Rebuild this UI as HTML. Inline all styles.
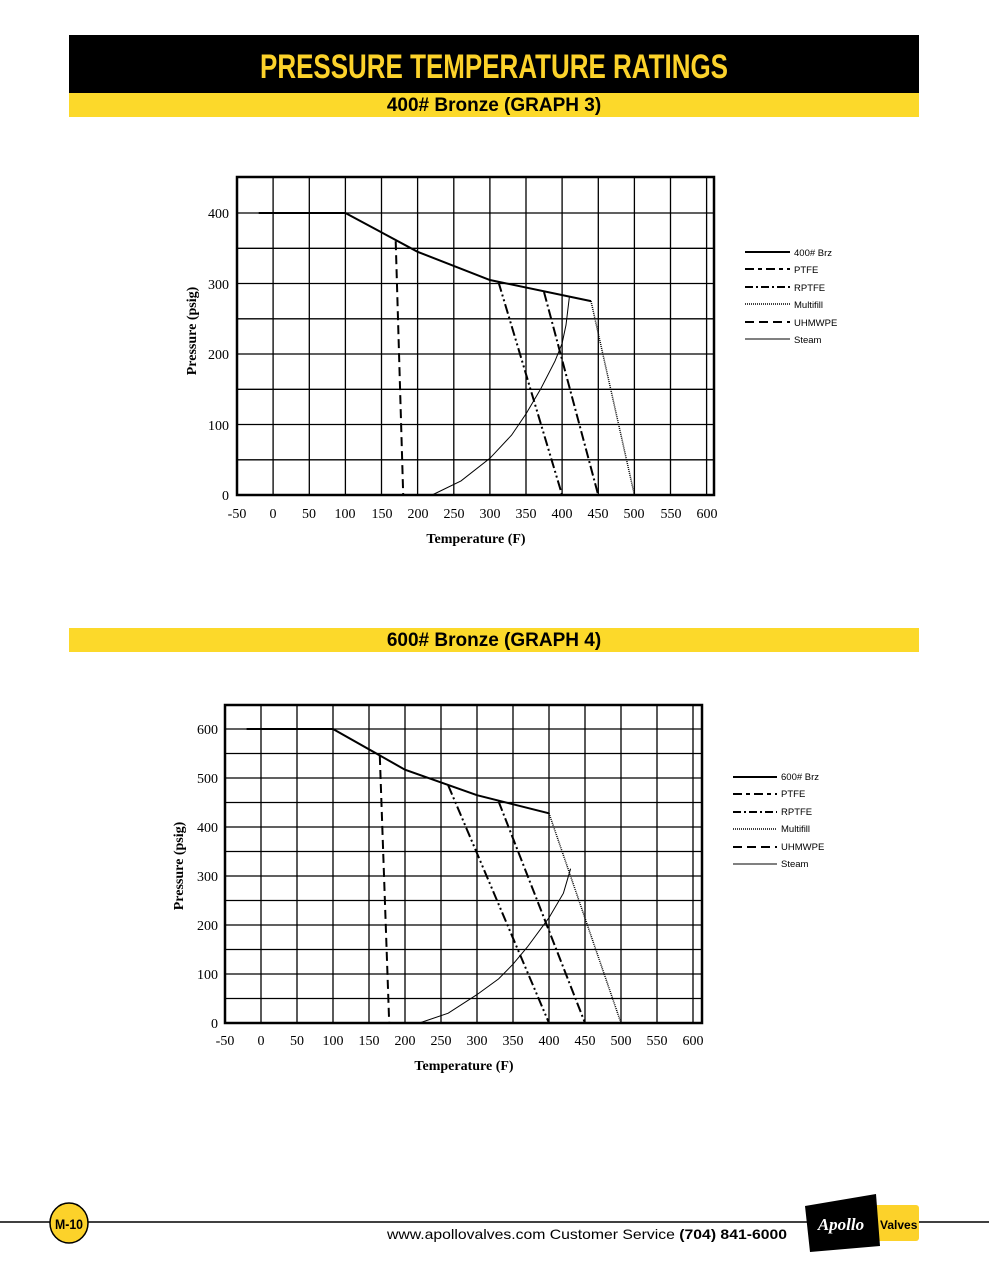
<!DOCTYPE html>
<html><head><meta charset="utf-8"><style>
html,body{margin:0;padding:0;background:#fff}
svg{display:block}
.s{font-family:"Liberation Serif",serif;font-size:14px;fill:#000}
.b{font-family:"Liberation Serif",serif;font-size:14px;font-weight:bold;fill:#000}
.l{font-family:"Liberation Sans",sans-serif;font-size:9.5px;fill:#000}
.g{stroke:#000;stroke-width:1.3;fill:none}
</style></head><body>
<svg width="989" height="1280" viewBox="0 0 989 1280" xmlns="http://www.w3.org/2000/svg">
<rect x="69" y="35" width="850" height="58" fill="#000"/>
<text x="494" y="78" text-anchor="middle" font-family="Liberation Sans, sans-serif" font-weight="bold" font-size="34" fill="#fcd22a" textLength="468" lengthAdjust="spacingAndGlyphs">PRESSURE TEMPERATURE RATINGS</text>
<rect x="69" y="93" width="850" height="24" fill="#fcd92a"/>
<text x="494" y="111" text-anchor="middle" font-family="Liberation Sans, sans-serif" font-weight="bold" font-size="19" fill="#000">400# Bronze (GRAPH 3)</text>
<rect x="69" y="628" width="850" height="24" fill="#fcd92a"/>
<text x="494" y="646" text-anchor="middle" font-family="Liberation Sans, sans-serif" font-weight="bold" font-size="19" fill="#000">600# Bronze (GRAPH 4)</text>

<!-- Graph 1 -->
<g class="g">
<path d="M273.1 177V495M309.3 177V495M345.4 177V495M381.5 177V495M417.6 177V495M453.8 177V495M489.9 177V495M526 177V495M562.1 177V495M598.3 177V495M634.4 177V495M670.5 177V495M706.6 177V495"/>
<path d="M237 459.8H714M237 424.5H714M237 389.3H714M237 354H714M237 318.8H714M237 283.5H714M237 248.3H714M237 213H714"/>
</g>
<rect x="237" y="177" width="477" height="318" fill="none" stroke="#000" stroke-width="2.5"/>
<g fill="none" stroke="#000">
<polyline stroke-width="2" points="258.7,213 345.4,213 417.6,251.8 489.9,280 591,301.1"/>
<line stroke-width="2" stroke-dasharray="9,5" x1="395.7" y1="241.2" x2="403.2" y2="495"/>
<line stroke-width="2" stroke-dasharray="10,3,2,3,2,3" x1="498.5" y1="282.1" x2="562.1" y2="495"/>
<line stroke-width="2" stroke-dasharray="10,3,2,3" x1="544" y1="292" x2="598.2" y2="495"/>
<line stroke-width="1.5" stroke-dasharray="1,1" x1="591" y1="301.1" x2="634.4" y2="495"/>
<polyline stroke-width="1" points="432.1,495 461,480.9 489.9,458.3 511.6,435.1 526,413.9 540.5,389.3 555,361.1 562.1,343.4 566,325 569.3,297.6"/>
</g>
<g class="s" text-anchor="end">
<text x="229" y="500">0</text><text x="229" y="430">100</text><text x="229" y="359">200</text><text x="229" y="289">300</text><text x="229" y="218">400</text>
</g>
<g class="s" text-anchor="middle">
<text x="237" y="518">-50</text><text x="273" y="518">0</text><text x="309" y="518">50</text><text x="345" y="518">100</text><text x="382" y="518">150</text><text x="418" y="518">200</text><text x="454" y="518">250</text><text x="490" y="518">300</text><text x="526" y="518">350</text><text x="562" y="518">400</text><text x="598" y="518">450</text><text x="634" y="518">500</text><text x="671" y="518">550</text><text x="707" y="518">600</text>
</g>
<text class="b" x="476" y="543" text-anchor="middle">Temperature (F)</text>
<text class="b" transform="translate(196,331) rotate(-90)" text-anchor="middle">Pressure (psig)</text>
<g stroke="#000" fill="none">
<line x1="745" y1="252" x2="790" y2="252" stroke-width="2"/>
<line x1="745" y1="269" x2="790" y2="269" stroke-width="2" stroke-dasharray="9,4,4,4"/>
<line x1="745" y1="287" x2="790" y2="287" stroke-width="2" stroke-dasharray="8,3,2,3"/>
<line x1="745" y1="304" x2="790" y2="304" stroke-width="1.5" stroke-dasharray="1,1"/>
<line x1="745" y1="322" x2="790" y2="322" stroke-width="2" stroke-dasharray="9,5"/>
<line x1="745" y1="339" x2="790" y2="339" stroke-width="1"/>
</g>
<g class="l"><text x="794" y="256">400# Brz</text><text x="794" y="273">PTFE</text><text x="794" y="291">RPTFE</text><text x="794" y="308">Multifill</text><text x="794" y="326">UHMWPE</text><text x="794" y="343">Steam</text></g>

<!-- Graph 2 -->
<g class="g">
<path d="M261 705V1023M297 705V1023M333 705V1023M369 705V1023M405 705V1023M441 705V1023M477 705V1023M513 705V1023M549 705V1023M585 705V1023M621 705V1023M657 705V1023M693 705V1023"/>
<path d="M225 998.5H702M225 974H702M225 949.5H702M225 925H702M225 900.5H702M225 876H702M225 851.5H702M225 827H702M225 802.5H702M225 778H702M225 753.5H702M225 729H702"/>
</g>
<rect x="225" y="705" width="477" height="318" fill="none" stroke="#000" stroke-width="2.5"/>
<g fill="none" stroke="#000">
<polyline stroke-width="2" points="246.6,729 333,729 405,769.7 477,795.2 549,813.3"/>
<line stroke-width="2" stroke-dasharray="9,5" x1="379.8" y1="756" x2="389.2" y2="1023"/>
<line stroke-width="2" stroke-dasharray="10,3,2,3,2,3" x1="448.2" y1="785.4" x2="549" y2="1023"/>
<line stroke-width="2" stroke-dasharray="10,3,2,3" x1="498.6" y1="801.5" x2="585" y2="1023"/>
<line stroke-width="1.5" stroke-dasharray="1,1" x1="549" y1="813.3" x2="621" y2="1023"/>
<polyline stroke-width="1" points="419.4,1023 448.2,1013.2 477,994.6 498.6,978.9 513,964.2 527.4,947 549,917.7 563.4,893.2 570.6,868.7"/>
</g>
<g class="s" text-anchor="end">
<text x="218" y="1028">0</text><text x="218" y="979">100</text><text x="218" y="930">200</text><text x="218" y="881">300</text><text x="218" y="832">400</text><text x="218" y="783">500</text><text x="218" y="734">600</text>
</g>
<g class="s" text-anchor="middle">
<text x="225" y="1045">-50</text><text x="261" y="1045">0</text><text x="297" y="1045">50</text><text x="333" y="1045">100</text><text x="369" y="1045">150</text><text x="405" y="1045">200</text><text x="441" y="1045">250</text><text x="477" y="1045">300</text><text x="513" y="1045">350</text><text x="549" y="1045">400</text><text x="585" y="1045">450</text><text x="621" y="1045">500</text><text x="657" y="1045">550</text><text x="693" y="1045">600</text>
</g>
<text class="b" x="464" y="1070" text-anchor="middle">Temperature (F)</text>
<text class="b" transform="translate(183,866) rotate(-90)" text-anchor="middle">Pressure (psig)</text>
<g stroke="#000" fill="none">
<line x1="733" y1="777" x2="777" y2="777" stroke-width="2"/>
<line x1="733" y1="794" x2="777" y2="794" stroke-width="2" stroke-dasharray="9,4,4,4"/>
<line x1="733" y1="812" x2="777" y2="812" stroke-width="2" stroke-dasharray="8,3,2,3"/>
<line x1="733" y1="829" x2="777" y2="829" stroke-width="1.5" stroke-dasharray="1,1"/>
<line x1="733" y1="847" x2="777" y2="847" stroke-width="2" stroke-dasharray="9,5"/>
<line x1="733" y1="864" x2="777" y2="864" stroke-width="1"/>
</g>
<g class="l"><text x="781" y="780">600# Brz</text><text x="781" y="797">PTFE</text><text x="781" y="815">RPTFE</text><text x="781" y="832">Multifill</text><text x="781" y="850">UHMWPE</text><text x="781" y="867">Steam</text></g>

<!-- Footer -->
<line x1="0" y1="1222" x2="989" y2="1222" stroke="#000" stroke-width="1.5"/>
<ellipse cx="69" cy="1223" rx="19" ry="20" fill="#fcd22a" stroke="#000" stroke-width="1.5"/>
<text x="69" y="1229" text-anchor="middle" font-family="Liberation Sans, sans-serif" font-weight="bold" font-size="14" fill="#000" textLength="28" lengthAdjust="spacingAndGlyphs">M-10</text>
<text x="387" y="1239" font-family="Liberation Sans, sans-serif" font-size="14" fill="#000" textLength="400" lengthAdjust="spacingAndGlyphs">www.apollovalves.com    Customer Service <tspan font-weight="bold">(704) 841-6000</tspan></text>
<rect x="845" y="1205" width="74" height="36" rx="3" fill="#fcd22a"/>
<polygon points="805,1206 876,1194 880,1246 810,1252" fill="#000"/>
<text x="841" y="1230" text-anchor="middle" font-family="Liberation Serif, serif" font-style="italic" font-weight="bold" font-size="17" fill="#fff">Apollo</text>
<text x="880" y="1229" font-family="Liberation Sans, sans-serif" font-weight="bold" font-size="12" fill="#000">Valves</text>
</svg>
</body></html>
